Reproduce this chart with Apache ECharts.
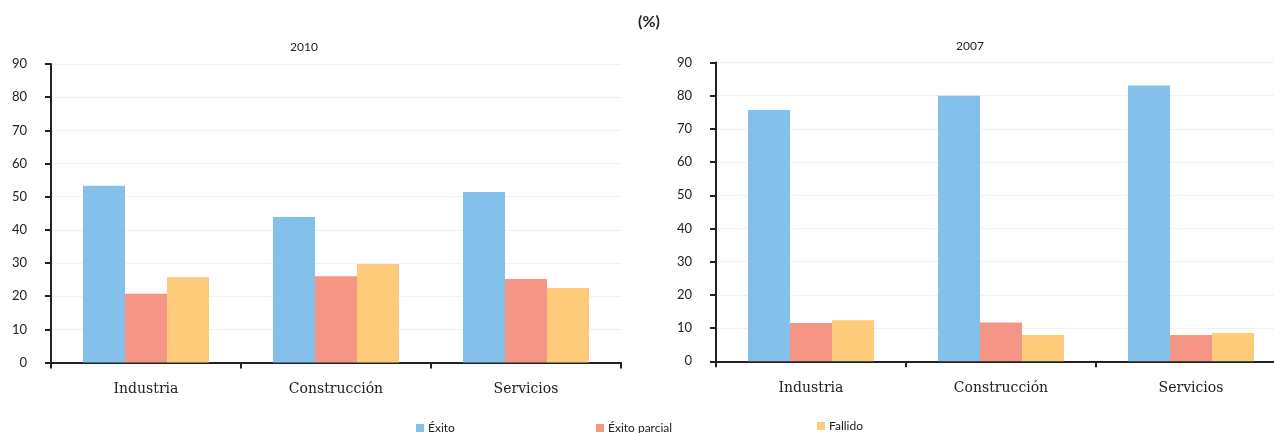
<!DOCTYPE html>
<html>
<head>
<meta charset="utf-8">
<script src="https://cdn.jsdelivr.net/npm/echarts@6/dist/echarts.min.js"></script>
<style>
  html, body { margin: 0; padding: 0; background: #fff; }
  #chart { width: 1274px; height: 433px; }
</style>
</head>
<body>
<div id="chart"></div>
<script>
// Sectores y resultados
const categories = ['Industria', 'Construcción', 'Servicios'];
const seriesNames = ['Éxito', 'Éxito parcial', 'Fallido'];
const yTicks = [0, 10, 20, 30, 40, 50, 60, 70, 80, 90];

// 2010 (%)
const exito2010 = [53.3, 43.9, 51.4];
const parcial2010 = [20.7, 26.0, 25.2];
const fallido2010 = [25.7, 29.7, 22.5];

// 2007 (%)
const exito2007 = [75.7, 80.0, 83.1];
const parcial2007 = [11.5, 11.7, 7.9];
const fallido2007 = [12.4, 7.9, 8.5];

const colors = ['#83C0EA', '#F59585', '#FECB7A'];
const axisColor = '#222222';

const chart = echarts.init(document.getElementById('chart'), null, { renderer: 'canvas' });

function xAxis(gridIndex) {
  return {
    type: 'category',
    gridIndex,
    data: categories,
    axisLine: { lineStyle: { color: axisColor, width: 2 } },
    axisTick: { show: true, length: 6, lineStyle: { color: axisColor, width: 2 } },
    axisLabel: { color: '#222', fontFamily: 'DejaVu Serif', fontSize: 14, margin: 20 }
  };
}
function yAxis(gridIndex) {
  return {
    type: 'value',
    gridIndex,
    min: yTicks[0],
    max: yTicks[yTicks.length - 1],
    interval: yTicks[1] - yTicks[0],
    axisLine: { show: true, lineStyle: { color: axisColor, width: 2 } },
    axisTick: { show: true, length: 6, lineStyle: { color: axisColor, width: 2 } },
    axisLabel: { color: '#222', fontFamily: 'Lato', fontSize: 13, margin: 24 },
    splitLine: { show: true, lineStyle: { color: '#ececec', width: 1, type: [3, 1] } }
  };
}
function bars(name, data, idx, colorIdx) {
  return {
    name,
    type: 'bar',
    xAxisIndex: idx,
    yAxisIndex: idx,
    data,
    barGap: '0%',
    barCategoryGap: '33.7%',
    itemStyle: { color: colors[colorIdx] },
    emphasis: { disabled: true }
  };
}
function legend(name, left, top) {
  return {
    data: [name],
    left, top,
    padding: 0,
    itemWidth: 8, itemHeight: 8,
    icon: 'rect',
    itemGap: 4,
    textStyle: { color: '#222', fontFamily: 'Lato', fontSize: 12, lineHeight: 14, padding: [0, 0, 0, -1] }
  };
}

chart.setOption({
  animation: false,
  textStyle: { fontFamily: 'Lato' },
  title: [
    { text: '(%)', left: 649, top: 14, padding: 0, textAlign: 'center',
      textStyle: { fontFamily: 'Lato', fontSize: 16, fontWeight: 'bold', color: '#222' } },
    { text: '2010', left: 304, top: 41, padding: 0, textAlign: 'center',
      textStyle: { fontFamily: 'Lato', fontSize: 12, fontWeight: 'normal', color: '#222' } },
    { text: '2007', left: 970, top: 40, padding: 0, textAlign: 'center',
      textStyle: { fontFamily: 'Lato', fontSize: 12, fontWeight: 'normal', color: '#222' } }
  ],
  legend: [
    legend(seriesNames[0], 416, 421),
    legend(seriesNames[1], 596, 421),
    legend(seriesNames[2], 817, 419)
  ],
  grid: [
    { left: 51, width: 570, top: 64, height: 298.5, outerBoundsMode: 'none' },
    { left: 716, width: 570, top: 62.5, height: 298.8, outerBoundsMode: 'none' }
  ],
  xAxis: [xAxis(0), xAxis(1)],
  yAxis: [yAxis(0), yAxis(1)],
  series: [
    bars(seriesNames[0], exito2010, 0, 0),
    bars(seriesNames[1], parcial2010, 0, 1),
    bars(seriesNames[2], fallido2010, 0, 2),
    bars(seriesNames[0], exito2007, 1, 0),
    bars(seriesNames[1], parcial2007, 1, 1),
    bars(seriesNames[2], fallido2007, 1, 2)
  ]
});
</script>
</body>
</html>
